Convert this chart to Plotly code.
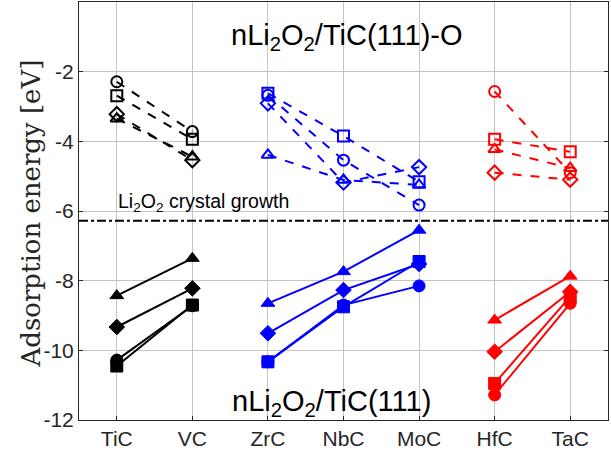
import plotly.graph_objects as go

categories = ["TiC", "VC", "ZrC", "NbC", "MoC", "HfC", "TaC"]
groups = [["TiC", "VC"], ["ZrC", "NbC", "MoC"], ["HfC", "TaC"]]
group_colors = ["black", "blue", "red"]
yticks = [-12, -10, -8, -6, -4, -2]
ytick_labels = ["-12", "-10", "-8", "-6", "-4", "-2"]

# O-terminated surface (dashed, open markers)
o_circle = [-2.29, -3.72, -2.68, -4.54, -5.83, -2.57, -4.90]
o_square = [-2.69, -3.94, -2.62, -3.85, -5.16, -3.94, -4.30]
o_triangle = [-3.35, -4.44, -4.39, -5.11, -5.25, -4.23, -4.77]
o_diamond = [-3.22, -4.54, -2.91, -5.18, -4.74, -4.90, -5.10]

# clean surface (solid, filled markers)
s_circle = [-10.28, -8.72, -10.33, -8.70, -8.15, -11.28, -8.65]
s_square = [-10.45, -8.70, -10.33, -8.75, -7.45, -10.95, -8.46]
s_triangle = [-8.43, -7.36, -8.65, -7.74, -6.55, -9.13, -7.87]
s_diamond = [-9.33, -8.22, -9.51, -8.27, -7.52, -10.04, -8.32]

growth_level = -6.28

fig = go.Figure()

open_series = [(o_circle, "circle-open"), (o_square, "square-open"),
               (o_triangle, "triangle-up-open"), (o_diamond, "diamond-open")]
solid_series = [(s_circle, "circle"), (s_square, "square"),
                (s_triangle, "triangle-up"), (s_diamond, "diamond")]

for grp, col in zip(groups, group_colors):
    idx = [categories.index(c) for c in grp]
    for vals, sym in open_series:
        fig.add_trace(go.Scatter(
            x=grp, y=[vals[i] for i in idx], mode="lines+markers",
            line=dict(color=col, width=2, dash="dash"),
            marker=dict(symbol=sym, size=11, color=col, line=dict(width=2, color=col)),
            showlegend=False))
    for vals, sym in solid_series:
        fig.add_trace(go.Scatter(
            x=grp, y=[vals[i] for i in idx], mode="lines+markers",
            line=dict(color=col, width=2),
            marker=dict(symbol=sym, size=12, color=col, line=dict(width=1, color=col)),
            showlegend=False))

fig.add_shape(type="line", xref="paper", x0=0, x1=1, yref="y",
              y0=growth_level, y1=growth_level,
              line=dict(color="black", width=2, dash="dashdot"))

fig.add_annotation(x="TiC", xanchor="left", xshift=-1, y=growth_level, yanchor="bottom",
                   yshift=4, text="Li<sub>2</sub>O<sub>2</sub> crystal growth",
                   showarrow=False, font=dict(family="Liberation Sans, Arial", size=19.5, color="black"))
fig.add_annotation(xref="paper", x=(347 - 79) / 529, yref="y", y=-1.0,
                   text="nLi<sub>2</sub>O<sub>2</sub>/TiC(111)-O", showarrow=False,
                   font=dict(family="Liberation Sans, Arial", size=29, color="black"))
fig.add_annotation(xref="paper", x=(331 - 79) / 529, yref="y", y=-11.5,
                   text="nLi<sub>2</sub>O<sub>2</sub>/TiC(111)", showarrow=False,
                   font=dict(family="Liberation Sans, Arial", size=29, color="black"))
fig.add_annotation(xref="paper", x=(14 - 79) / 529, yref="paper", y=0.494,
                   text="Adsorption energy [eV]", textangle=-90, showarrow=False,
                   font=dict(family="DejaVu Serif, serif", size=26, color="#262626"))

fig.update_layout(
    width=611, height=458,
    margin=dict(l=79, r=3, t=2, b=38),
    plot_bgcolor="white", paper_bgcolor="white",
    xaxis=dict(type="category", categoryorder="array", categoryarray=categories,
               range=[-0.5, 6.5], showgrid=True, gridcolor="#c4c4c4", gridwidth=1,
               showline=True, linecolor="#262626", linewidth=1, mirror=True,
               ticks="inside", ticklen=4, tickcolor="#262626", automargin=False,
               tickfont=dict(family="Liberation Sans, Arial", size=21, color="#262626")),
    yaxis=dict(range=[-12, 0], tickvals=yticks, ticktext=ytick_labels, showgrid=True,
               gridcolor="#c4c4c4", automargin=False,
               gridwidth=1, zeroline=False, showline=True, linecolor="#262626",
               linewidth=1, mirror="ticks", ticks="inside", ticklen=4, tickcolor="#262626",
               tickfont=dict(family="Liberation Sans, Arial", size=21, color="#262626")),
)

fig.write_html("out.html", config={"displayModeBar": False},
               post_script="document.body.style.margin='0';document.body.style.overflow='hidden';")
